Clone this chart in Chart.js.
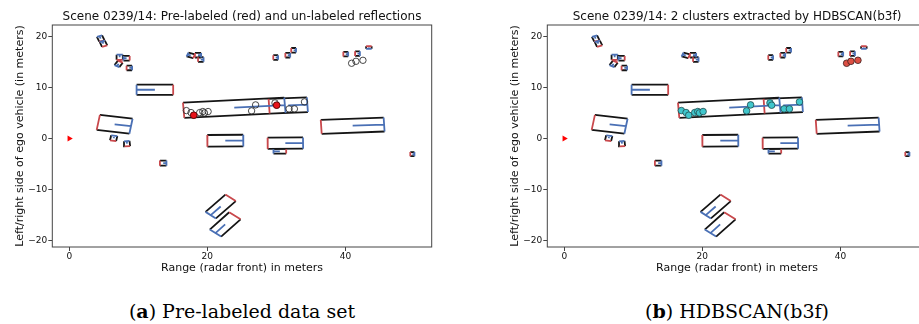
<!DOCTYPE html>
<html>
<head>
<meta charset="utf-8">
<script src="https://cdn.jsdelivr.net/npm/chart.js@4.4.1/dist/chart.umd.min.js"></script>
<style>
  html, body { margin: 0; padding: 0; background: #fff; overflow: hidden; }
  body { width: 919px; height: 324px; position: relative; }
  canvas { position: absolute; top: 0; }
  .cap { position: absolute; top: 300px; width: 340px; line-height: 22px; text-align: center;
         font-family: 'DejaVu Serif', serif; font-size: 19px; color: #000; }
</style>
</head>
<body>
<canvas id="left" width="484" height="280" style="left:0"></canvas>
<canvas id="right" width="484" height="280" style="left:495px"></canvas>
<div class="cap" style="left:72px">(<b>a</b>) Pre-labeled data set</div>
<div class="cap" style="left:567px">(<b>b</b>) HDBSCAN(b3f)</div>
<script>
// radar reflections (range, lateral) in meters
const ptX = [16.96, 17.64, 18.03, 18.90, 19.34, 19.58, 20.11, 26.41, 26.99, 29.80, 30.04, 31.84, 32.61, 34.07, 40.90, 41.53, 42.54]
const ptY = [5.47, 5.08, 4.56, 5.08, 5.28, 5.02, 5.28, 5.41, 6.58, 6.97, 6.52, 5.80, 5.80, 7.17, 14.72, 15.10, 15.30]
// HDBSCAN cluster of every reflection
const ptCluster = [0, 0, 0, 0, 0, 0, 0, 0, 0, 0, 0, 0, 0, 0, 1, 1, 1]
// reflections that were pre-labeled
const labeledIdx = [2, 10]

// ego vehicle
const egoX = [0]
const egoY = [0]

// annotated objects: center, length, width, heading (deg)
const boxX   = [23.9, 31.72, 12.4, 6.57, 22.6, 31.3, 30.5, 41.05, 21.93, 22.58, 6.43, 8.37, 13.6, 49.7,
                4.55, 4.95, 7.3, 8.3, 7.15, 8.7, 17.6, 18.65, 19.05, 29.9, 31.65, 32.5, 40.05, 41.75, 43.4]
const boxY   = [6.03, 6.47, 9.54, 2.79, -0.42, -0.9, -2.5, 2.52, -13.28, -16.79, 0.07, -1.0, -4.8, -3.05,
                19.55, 18.55, 15.9, 15.7, 14.6, 13.8, 16.25, 16.3, 15.45, 15.85, 16.3, 17.25, 16.5, 16.6, 17.8]
const boxLen = [14.7, 5.55, 5.3, 4.79, 5.2, 5.13, 1.84, 9.12, 4.44, 4.4, 1.0, 1.0, 0.95, 0.6,
                1.0, 1.0, 1.0, 0.9, 1.0, 0.8, 1.0, 0.9, 0.8, 0.7, 0.7, 0.7, 0.7, 0.7, 0.5]
const boxWid = [3.0, 2.87, 2.0, 2.97, 2.28, 2.2, 0.86, 2.73, 1.97, 2.14, 0.9, 0.8, 1.0, 0.8,
                0.8, 0.8, 0.9, 0.9, 0.8, 0.9, 0.8, 0.9, 0.9, 0.9, 0.9, 0.9, 0.9, 0.9, 0.8]
const boxHead = [3.8, 3.0, 180, -9, 0.5, 0.5, 180, 2.8, -130.4, -129.8, 80, 95, 0, 0,
                 110, 110, 90, 180, -120, 0, 160, 0, 0, 0, 0, 0, 0, 0, -90]

const xTicks = [0, 20, 40]
const yTicks = [-20, -10, 0, 10, 20]

Chart.defaults.font.family = 'DejaVu Sans'
Chart.defaults.color = '#111'

// side = long edges (black), back = rear edge (red), front = front edge + heading (blue)
function boxLines(kind) {
  const out = []
  for (let i = 0; i < boxX.length; i++) {
    const t = boxHead[i] * Math.PI / 180
    const ux = Math.cos(t), uy = Math.sin(t)
    const l = boxLen[i] / 2, w = boxWid[i] / 2
    const p = (a, b) => ({x: boxX[i] + a * ux - b * uy, y: boxY[i] + a * uy + b * ux})
    let segs
    if (kind === 'side') segs = [[p(-l, w), p(l, w)], [p(-l, -w), p(l, -w)]]
    else if (kind === 'back') segs = [[p(-l, w), p(-l, -w)]]
    else segs = [[p(l, w), p(l, -w)], [p(0, 0), p(l, 0)]]
    segs.forEach(s => out.push(s[0], s[1], {x: boxX[i], y: null}))
  }
  return out
}

function lineSet(kind, color) {
  return {data: boxLines(kind), showLine: true, borderColor: color, borderWidth: 1.8,
          pointRadius: 0, spanGaps: false}
}

function pts(idx) {
  return idx.map(i => ({x: ptX[i], y: ptY[i]}))
}

const egoSet = {
  data: egoX.map((x, i) => ({x, y: egoY[i]})),
  pointStyle: 'triangle', rotation: 90, radius: 3.5,
  backgroundColor: '#ff0000', borderColor: '#ff0000', borderWidth: 0
}

const frame = {
  id: 'frame',
  afterDatasetsDraw(chart) {
    const {ctx, chartArea: a} = chart
    ctx.save()
    ctx.strokeStyle = '#444'
    ctx.lineWidth = 1
    ctx.strokeRect(a.left, a.top, a.right - a.left, a.bottom - a.top)
    ctx.restore()
  }
}

function makeChart(id, title, markerSets) {
  const datasets = markerSets.concat([egoSet, lineSet('front', '#4a70b5'),
    lineSet('back', '#c9484c'), lineSet('side', '#151515')])
  return new Chart(document.getElementById(id), {
    type: 'scatter',
    data: {datasets},
    plugins: [frame],
    options: {
      responsive: false,
      animation: false,
      plugins: {
        legend: {display: false},
        tooltip: {enabled: false},
        title: {display: true, text: title, color: '#111',
                font: {size: 12, weight: 'normal'}, padding: {top: 9.8, bottom: 0.8}}
      },
      scales: {
        x: {
          type: 'linear', min: -2.46, max: 52.5,
          afterBuildTicks: s => { s.ticks = xTicks.map(v => ({value: v})) },
          afterFit: s => { s.height = 33 },
          ticks: {font: {size: 9}, padding: 0, color: '#111'},
          grid: {drawOnChartArea: false, drawTicks: true, tickLength: 4, color: '#444'},
          border: {display: false},
          title: {display: true, text: 'Range (radar front) in meters', color: '#111',
                  font: {size: 11}, padding: {top: 0, bottom: 5.1}}
        },
        y: {
          type: 'linear', min: -21.2, max: 22.2,
          afterBuildTicks: s => { s.ticks = yTicks.map(v => ({value: v})) },
          afterFit: s => { s.width = 52.3 },
          ticks: {font: {size: 9}, padding: 1, color: '#111',
                  callback: v => String(v).replace('-', '\u2212')},
          grid: {drawOnChartArea: false, drawTicks: true, tickLength: 4, color: '#444'},
          border: {display: false},
          title: {display: true, text: 'Left/right side of ego vehicle (in meters)', color: '#111',
                  font: {size: 11}, padding: {top: 13.4, bottom: 0}}
        },
        yR: {
          position: 'right', display: true,
          afterFit: s => { s.width = 52.3 },
          ticks: {display: false},
          grid: {display: false},
          border: {display: false}
        }
      }
    }
  })
}

const allIdx = ptX.map((_, i) => i)

makeChart('left', 'Scene 0239/14: Pre-labeled (red) and un-labeled reflections', [
  {data: pts(labeledIdx), radius: 3.3, backgroundColor: '#e8141b', borderColor: '#5a0000', borderWidth: 0.8},
  {data: pts(allIdx), radius: 3.2, backgroundColor: 'rgba(0,0,0,0)', borderColor: '#333', borderWidth: 0.9}
])

makeChart('right', 'Scene 0239/14: 2 clusters extracted by HDBSCAN(b3f)', [
  {data: pts(allIdx.filter(i => ptCluster[i] === 1)), radius: 3.3,
   backgroundColor: '#dd4f43', borderColor: '#3a2020', borderWidth: 0.8},
  {data: pts(allIdx.filter(i => ptCluster[i] === 0)), radius: 3.3,
   backgroundColor: '#40c6cc', borderColor: '#1f4a4c', borderWidth: 0.8}
])
</script>
</body>
</html>
